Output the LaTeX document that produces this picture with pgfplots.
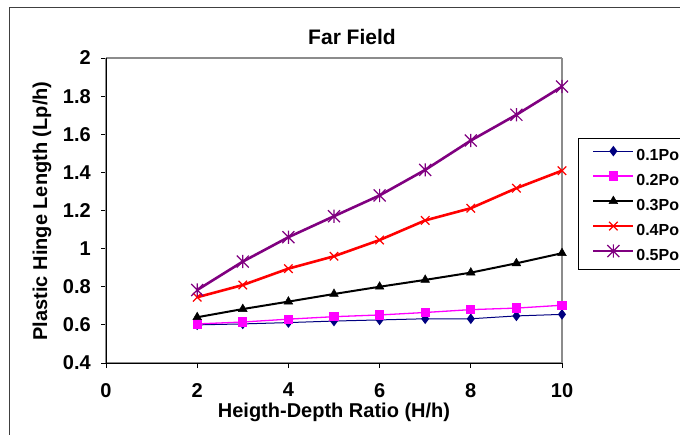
\documentclass[border=0pt]{standalone}
\usepackage{fontspec}
\setmainfont{Liberation Sans}
\usepackage{pgfplots}
\pgfplotsset{compat=1.18}
\definecolor{navyc}{RGB}{0,0,128}
\definecolor{magc}{RGB}{255,0,255}
\definecolor{purc}{RGB}{128,0,128}
\pgfdeclareplotmark{xstar}{%
 \pgfpathmoveto{\pgfqpoint{-\pgfplotmarksize}{-\pgfplotmarksize}}%
 \pgfpathlineto{\pgfqpoint{\pgfplotmarksize}{\pgfplotmarksize}}%
 \pgfpathmoveto{\pgfqpoint{-\pgfplotmarksize}{\pgfplotmarksize}}%
 \pgfpathlineto{\pgfqpoint{\pgfplotmarksize}{-\pgfplotmarksize}}%
 \pgfpathmoveto{\pgfqpoint{0pt}{-1.1\pgfplotmarksize}}%
 \pgfpathlineto{\pgfqpoint{0pt}{1.1\pgfplotmarksize}}%
 \pgfusepathqstroke}
\begin{document}
\begin{tikzpicture}
\useasboundingbox (0,0) rectangle (680bp,435bp);
\draw[black!75, line width=1.2bp] (9.5bp,-20bp) -- (9.5bp,427.5bp) -- (720bp,427.5bp);
\node[font=\fontsize{21bp}{25bp}\selectfont\bfseries, inner sep=0pt] at (352bp,398bp) {Far Field};
\node[font=\fontsize{20bp}{24bp}\selectfont\bfseries, inner sep=0pt] at (334bp,23bp) {Heigth-Depth Ratio (H/h)};
\node[font=\fontsize{20bp}{24bp}\selectfont\bfseries, inner sep=0pt, rotate=90] at (42bp,224bp) {Plastic Hinge Length (Lp/h)};
\begin{axis}[
  at={(106bp,72bp)}, anchor=south west,
  scale only axis, width=456bp, height=305bp,
  xmin=0, xmax=10, ymin=0.4, ymax=2,
  xtick={0,2,4,6,8,10},
  ytick={0.4,0.6,0.8,1,1.2,1.4,1.6,1.8,2},
  yticklabels={0.4,0.6,0.8,1,1.2,1.4,1.6,1.8,2},
  xtick pos=left, ytick pos=left,
  tick align=outside, major tick length=5bp,
  tick style={black, line width=0.8bp},
  separate axis lines,
  axis line style={draw=black!45, line width=1.2bp},
  /pgf/number format/assume math mode=true,
  ticklabel style={font=\fontsize{20bp}{24bp}\selectfont\bfseries},
  xticklabel style={inner sep=0pt, yshift=-15bp},
  yticklabel style={inner sep=0pt, xshift=-10bp},
  clip=false,
  legend style={at={(1.035,0.7387)}, anchor=north west, draw=black, line width=0.8bp,
    fill=white, inner xsep=15bp, inner ysep=5bp,
    font=\fontsize{16bp}{20bp}\selectfont\bfseries,
    nodes={inner sep=0pt, text height=13bp, text depth=4bp},
    row sep=3.5bp,
    /tikz/every odd column/.style={column sep=3bp}},
  legend cell align=left,
  legend image code/.code={%
    \draw[overlay,mark repeat=2,mark phase=2,#1] plot coordinates {(0bp,5bp) (20bp,5bp) (40bp,5bp)};
    \path[draw=none,fill=none] (0bp,-4bp) rectangle (40bp,13bp);},
  after end axis/.code={
    \draw[black, line width=1bp] (rel axis cs:0,1) -- (rel axis cs:0,0) -- (rel axis cs:1,0);
  },
]
\addplot[navyc, line width=1bp, mark=diamond*, mark size=4.5bp, mark options={fill=navyc, solid}]
  coordinates {(2,0.600) (3,0.605) (4,0.612) (5,0.620) (6,0.626) (7,0.632) (8,0.632) (9,0.647) (10,0.655)};
\addlegendentry{0.1Po}
\addplot[magc, line width=1.3bp, mark=square*, mark size=4bp, mark options={fill=magc, solid}]
  coordinates {(2,0.605) (3,0.615) (4,0.630) (5,0.643) (6,0.652) (7,0.665) (8,0.680) (9,0.688) (10,0.703)};
\addlegendentry{0.2Po}
\addplot[black, line width=2bp, mark=triangle*, mark size=5bp, mark options={fill=black, solid, line width=0.5bp}]
  coordinates {(2,0.640) (3,0.683) (4,0.722) (5,0.762) (6,0.800) (7,0.836) (8,0.874) (9,0.923) (10,0.976)};
\addlegendentry{0.3Po}
\addplot[red, line width=2.6bp, mark=x, mark size=6bp, mark options={line width=1.2bp, solid}]
  coordinates {(2,0.745) (3,0.809) (4,0.895) (5,0.960) (6,1.045) (7,1.148) (8,1.212) (9,1.317) (10,1.409)};
\addlegendentry{0.4Po}
\addplot[purc, line width=2.6bp, mark=xstar, mark size=6bp, mark options={line width=1.2bp, solid}]
  coordinates {(2,0.783) (3,0.932) (4,1.060) (5,1.170) (6,1.279) (7,1.413) (8,1.567) (9,1.702) (10,1.850)};
\addlegendentry{0.5Po}
\end{axis}
\end{tikzpicture}
\end{document}
